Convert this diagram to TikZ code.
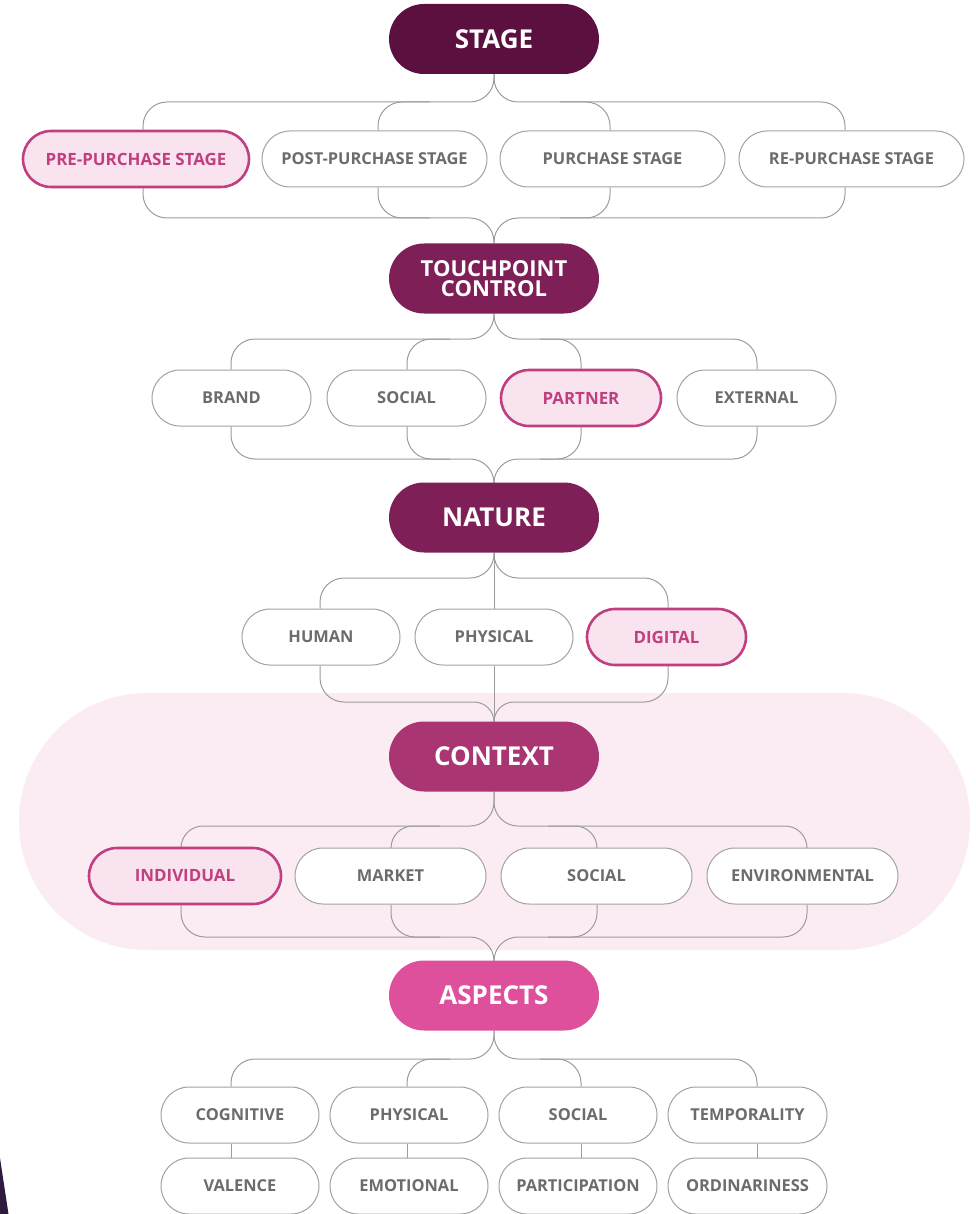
\documentclass[tikz,border=0pt]{standalone}
\usepackage{fontspec}
\setmainfont{Open Sans}
\usetikzlibrary{backgrounds}
\definecolor{cStage}{HTML}{5C1040}
\definecolor{cTC}{HTML}{7E1F57}
\definecolor{cNature}{HTML}{7E1F57}
\definecolor{cContext}{HTML}{A93572}
\definecolor{cAspects}{HTML}{DF509C}
\definecolor{cBorder}{HTML}{A2A2A2}
\definecolor{cText}{HTML}{6C6C6C}
\definecolor{cHl}{HTML}{C03F80}
\definecolor{cHlFill}{HTML}{F9E3EF}
\definecolor{cConn}{HTML}{9C9C9C}
\definecolor{cBg}{HTML}{FBECF3}
\definecolor{cDark}{HTML}{2E1A3F}
\tikzset{
  mainbox/.style={rectangle, rounded corners=35pt, minimum width=210pt, minimum height=70pt,
    inner sep=0pt, text=white, align=center, font=\fontsize{26}{26}\selectfont\bfseries},
  optbox/.style={rectangle, rounded corners=28pt, minimum height=56pt, inner sep=0pt,
    draw=cBorder, line width=1pt, fill=white, text=cText, font=\fontsize{16.4}{16.4}\selectfont\bfseries},
  hlbox/.style={optbox, draw=cHl, line width=2.6pt, fill=cHlFill, text=cHl,
    font=\fontsize{16.9}{16.9}\selectfont\bfseries},
  conn/.style={draw=cConn, line width=1pt, rounded corners=24pt},
}
\begin{document}
\begin{tikzpicture}[x=1pt,y=-1pt]
\useasboundingbox (0,0) rectangle (975,1214);
\fill[cDark] (0,1158) -- (8.5,1214) -- (0,1214) -- cycle;

% level 0
\node[mainbox, fill=cStage] (stage) at (494,39) {STAGE};
% level 1
\node[hlbox, minimum width=226pt] (pre) at (136,159) {PRE-PURCHASE STAGE};
\node[optbox, minimum width=225pt] (post) at (374.5,159) {POST-PURCHASE STAGE};
\node[optbox, minimum width=225pt] (purch) at (612.5,159) {PURCHASE STAGE};
\node[optbox, minimum width=225pt] (repur) at (851.5,159) {RE-PURCHASE STAGE};
% touchpoint
\node[mainbox, fill=cTC, font=\fontsize{22}{20}\selectfont\bfseries] (tc) at (494,278.5) {TOUCHPOINT\\CONTROL};
\node[optbox, minimum width=159pt] (brand) at (231.5,398) {BRAND};
\node[optbox, minimum width=159pt] (social) at (406.5,398) {SOCIAL};
\node[hlbox, minimum width=160pt] (partner) at (581,398) {PARTNER};
\node[optbox, minimum width=159pt] (external) at (756.5,398) {EXTERNAL};
% nature
\node[mainbox, fill=cNature] (nature) at (494,517.5) {NATURE};
\node[optbox, minimum width=158pt] (human) at (321,637) {HUMAN};
\node[optbox, minimum width=158pt] (physical) at (494,637) {PHYSICAL};
\node[hlbox, minimum width=159pt] (digital) at (666.5,637) {DIGITAL};
% context
\node[mainbox, fill=cContext] (context) at (494,756.5) {CONTEXT};
\node[hlbox, minimum width=192pt] (indiv) at (185,876) {INDIVIDUAL};
\node[optbox, minimum width=191pt] (market) at (390.5,876) {MARKET};
\node[optbox, minimum width=191pt] (csocial) at (596.5,876) {SOCIAL};
\node[optbox, minimum width=191pt] (env) at (802.5,876) {ENVIRONMENTAL};
% aspects
\node[mainbox, fill=cAspects] (aspects) at (494,995.5) {ASPECTS};
\node[optbox, minimum width=158pt] (cog) at (240,1115) {COGNITIVE};
\node[optbox, minimum width=158pt] (aphys) at (409,1115) {PHYSICAL};
\node[optbox, minimum width=158pt] (asoc) at (578,1115) {SOCIAL};
\node[optbox, minimum width=159pt] (temp) at (747.5,1115) {TEMPORALITY};
\node[optbox, minimum width=158pt] (val) at (240,1186) {VALENCE};
\node[optbox, minimum width=158pt] (emo) at (409,1186) {EMOTIONAL};
\node[optbox, minimum width=158pt] (part) at (578,1186) {PARTICIPATION};
\node[optbox, minimum width=159pt] (ord) at (747.5,1186) {ORDINARINESS};

\begin{scope}[on background layer]
\fill[cBg, rounded corners=128pt] (19,693) rectangle (970,950);
% stage fan
\draw[conn] (stage.south) -- (494,102) -- (143,102) -- (143,0 |- pre.north);
\draw[conn] (stage.south) -- (494,102) -- (845,102) -- (845,0 |- repur.north);
\draw[conn] (430,102) -- (378,102) -- (378,0 |- post.north);
\draw[conn] (560,102) -- (610,102) -- (610,0 |- purch.north);
\draw[conn] (143,0 |- pre.south) -- (143,218) -- (494,218) -- (tc.north);
\draw[conn] (845,0 |- repur.south) -- (845,218) -- (494,218) -- (tc.north);
\draw[conn] (378,0 |- post.south) -- (378,218) -- (430,218);
\draw[conn] (610,0 |- purch.south) -- (610,218) -- (560,218);
% touchpoint fan
\draw[conn] (tc.south) -- (494,339) -- (231,339) -- (231,0 |- brand.north);
\draw[conn] (tc.south) -- (494,339) -- (757,339) -- (757,0 |- external.north);
\draw[conn] (450,339) -- (407,339) -- (407,0 |- social.north);
\draw[conn] (540,339) -- (581,339) -- (581,0 |- partner.north);
\draw[conn] (231,0 |- brand.south) -- (231,459) -- (494,459) -- (nature.north);
\draw[conn] (757,0 |- external.south) -- (757,459) -- (494,459) -- (nature.north);
\draw[conn] (407,0 |- social.south) -- (407,459) -- (450,459);
\draw[conn] (581,0 |- partner.south) -- (581,459) -- (540,459);
% nature fan
\draw[conn] (nature.south) -- (494,578) -- (320,578) -- (320,0 |- human.north);
\draw[conn] (nature.south) -- (494,578) -- (668,578) -- (668,0 |- digital.north);
\draw[conn, rounded corners=0pt] (nature.south) -- (physical.north);
\draw[conn, rounded corners=0pt] (physical.south) -- (context.north);
\draw[conn] (320,0 |- human.south) -- (320,702) [rounded corners=20pt] -- (494,702) -- (context.north);
\draw[conn] (668,0 |- digital.south) -- (668,702) [rounded corners=20pt] -- (494,702) -- (context.north);
% context fan
\draw[conn] (context.south) -- (494,826) [rounded corners=22pt] -- (181,826) -- (181,0 |- indiv.north);
\draw[conn] (context.south) -- (494,826) [rounded corners=22pt] -- (807,826) -- (807,0 |- env.north);
\draw[conn, rounded corners=22pt] (440,826) -- (391,826) -- (391,0 |- market.north);
\draw[conn, rounded corners=22pt] (548,826) -- (597,826) -- (597,0 |- csocial.north);
\draw[conn] (181,0 |- indiv.south) -- (181,937) -- (494,937) -- (aspects.north);
\draw[conn] (807,0 |- env.south) -- (807,937) -- (494,937) -- (aspects.north);
\draw[conn] (391,0 |- market.south) -- (391,937) -- (440,937);
\draw[conn] (597,0 |- csocial.south) -- (597,937) -- (548,937);
% aspects fan
\draw[conn] (aspects.south) -- (494,1059) -- (231,1059) -- (231,0 |- cog.north);
\draw[conn] (aspects.south) -- (494,1059) -- (757,1059) -- (757,0 |- temp.north);
\draw[conn] (450,1059) -- (407,1059) -- (407,0 |- aphys.north);
\draw[conn] (540,1059) -- (581,1059) -- (581,0 |- asoc.north);
\draw[conn, rounded corners=0pt] (231,0 |- cog.south) -- (231,0 |- val.north);
\draw[conn, rounded corners=0pt] (407,0 |- aphys.south) -- (407,0 |- emo.north);
\draw[conn, rounded corners=0pt] (581,0 |- asoc.south) -- (581,0 |- part.north);
\draw[conn, rounded corners=0pt] (757,0 |- temp.south) -- (757,0 |- ord.north);
\end{scope}
\end{tikzpicture}
\end{document}
